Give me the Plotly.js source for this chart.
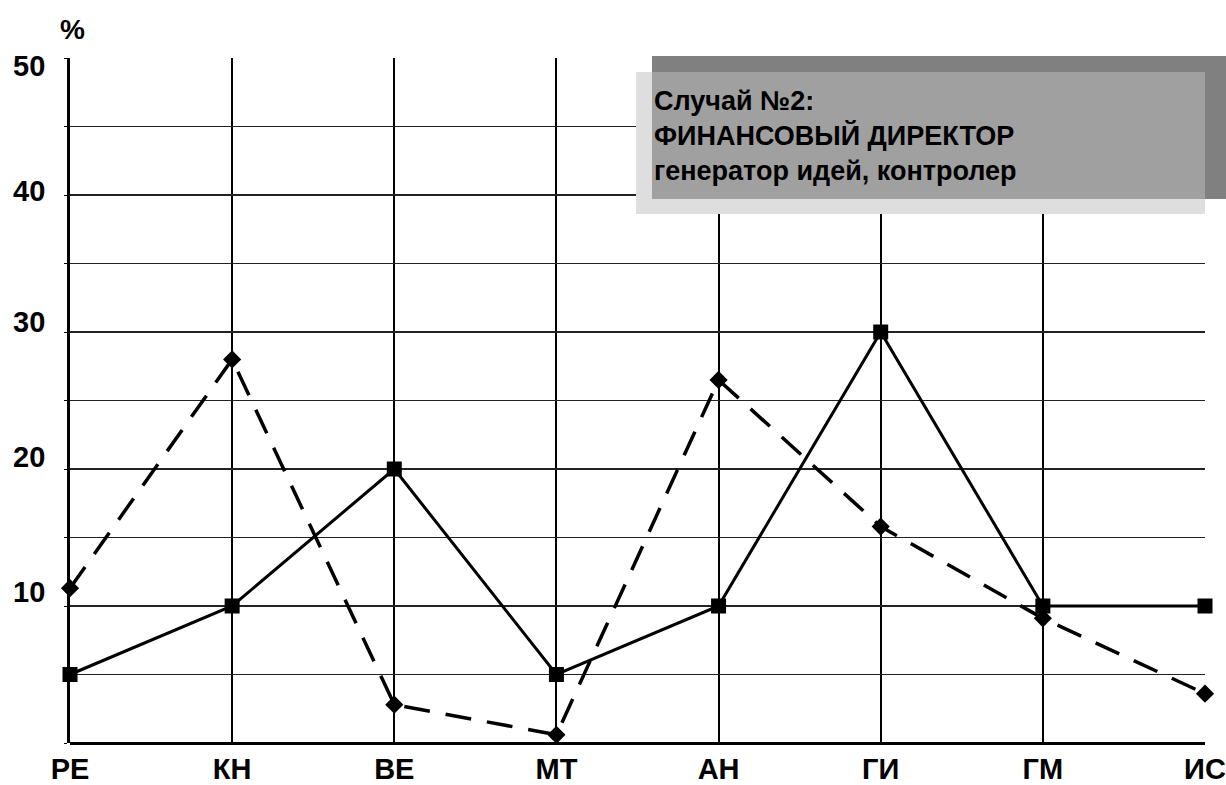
<!DOCTYPE html>
<html><head><meta charset="utf-8">
<script src="https://cdn.plot.ly/plotly-3.0.1.min.js"></script>
<style>html,body{margin:0;padding:0;background:#fff}#chart{width:1226px;height:785px}</style>
</head><body><div id="chart"></div>
<script>
const categories = ['РЕ','КН','ВЕ','МТ','АН','ГИ','ГМ','ИС'];
const solidValues = [5, 10, 20, 5, 10, 30, 10, 10];
const dashedValues = [11.3, 28.0, 2.8, 0.6, 26.5, 15.8, 9.1, 3.6];
const yGridVals = [0,5,10,15,20,25,30,35,40,45,50];
const yLabelVals = [10, 20, 30, 40, 50];
const yLabelText = ['10', '20', '30', '40', '50'];
const boxLines = ['Случай №2:', 'ФИНАНСОВЫЙ ДИРЕКТОР', 'генератор идей, контролер'];

const W = 1226, H = 785, L = 70, R = 21, T = 58, B = 42;
const pw = W - L - R, ph = H - T - B;
const px = x => (x - L) / pw;
const py = y => (H - B - y) / ph;
const labelShift = [14, 12, 10, 4, -8];
const FONT = 'Arial, Liberation Sans';

const traces = [
  {x: categories, y: dashedValues, type: 'scatter', mode: 'lines+markers',
   line: {color: '#000', width: 3.5, dash: '26px,16px'},
   marker: {symbol: 'diamond', size: 14, color: '#000'}, cliponaxis: false},
  {x: categories, y: solidValues, type: 'scatter', mode: 'lines+markers',
   line: {color: '#000', width: 3},
   marker: {symbol: 'square', size: 15, color: '#000'}, cliponaxis: false}
];

const shapes = [
  {type:'rect', xref:'paper', yref:'paper', x0:px(636), x1:px(1205), y0:py(214), y1:py(72), fillcolor:'#dedede', line:{width:0}, layer:'above'},
  {type:'rect', xref:'paper', yref:'paper', x0:px(652), x1:px(1226), y0:py(199), y1:py(56), fillcolor:'#808080', line:{width:0}, layer:'above'},
  {type:'rect', xref:'paper', yref:'paper', x0:px(652), x1:px(1205), y0:py(199), y1:py(72), fillcolor:'#a0a0a0', line:{width:0}, layer:'above'}
];

const annotations = [
  {xref:'paper', yref:'paper', x:px(652), y:py(84), xanchor:'left', yanchor:'top', align:'left',
   text: boxLines.join('<br>'), showarrow:false,
   font:{family:FONT, size:27, color:'#000', weight:'bold'}},
  {xref:'paper', yref:'paper', x:px(72), y:py(30), xanchor:'center', yanchor:'middle',
   text:'%', showarrow:false, font:{family:FONT, size:28, color:'#000', weight:'bold'}}
];
yLabelVals.forEach((v, i) => annotations.push({
  xref:'paper', yref:'y', x:px(47), y:v, yshift:labelShift[i], xanchor:'right', yanchor:'middle',
  text:yLabelText[i], showarrow:false, font:{family:FONT, size:29, color:'#000', weight:'bold'}
}));

const layout = {
  width: W, height: H, margin: {l: L, r: R, t: T, b: B},
  paper_bgcolor: '#fff', plot_bgcolor: '#fff', showlegend: false,
  xaxis: {type:'category', range:[0,7], showgrid:true, gridcolor:'#000', gridwidth:2,
    showline:false, zeroline:false, ticks:'', ticklabelstandoff: 6,
    tickfont:{family:FONT, size:29, color:'#000', weight:'bold'}},
  yaxis: {range:[0,50], tickvals:yGridVals, showticklabels:false, showgrid:true, gridcolor:'#222', gridwidth:1.6,
    showline:true, linecolor:'#000', linewidth:3, zeroline:true, zerolinecolor:'#000', zerolinewidth:3,
    ticks:'outside', ticklen:3, tickcolor:'#000'},
  shapes: shapes, annotations: annotations
};
Plotly.newPlot('chart', traces, layout, {displayModeBar:false, staticPlot:true});
</script></body></html>
